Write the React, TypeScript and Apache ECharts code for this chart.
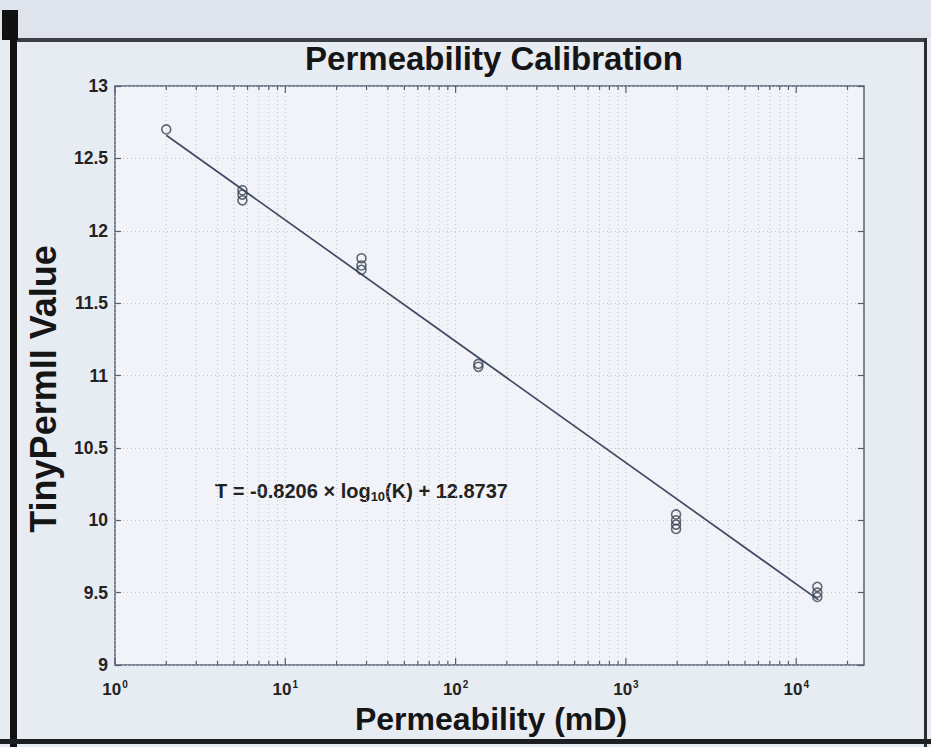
import React, { useEffect, useRef } from 'react';
import * as echarts from 'echarts';

// ---- data ----
const permeabilityK = [2, 5.6, 5.6, 5.6, 28, 28, 28, 136, 136, 1970, 1970, 1970, 1970, 13300, 13300, 13300];
const tinyPermT = [12.7, 12.28, 12.25, 12.21, 11.81, 11.76, 11.73, 11.08, 11.06, 10.04, 10.0, 9.97, 9.94, 9.54, 9.5, 9.47];
const fitK = [2, 13500];
const fitT = [12.66, 9.45];
const majorXTicks = [1, 10, 100, 1000, 10000];
const minorXTicks = [
  2, 3, 4, 5, 6, 7, 8, 9,
  20, 30, 40, 50, 60, 70, 80, 90,
  200, 300, 400, 500, 600, 700, 800, 900,
  2000, 3000, 4000, 5000, 6000, 7000, 8000, 9000,
  20000,
];
const yTickValues = [9, 9.5, 10, 10.5, 11, 11.5, 12, 12.5, 13];

const X_MIN = 1;
const X_MAX = 25000;
const Y_MIN = 9;
const Y_MAX = 13;

const FONT = '"Liberation Sans", Arial, Helvetica, sans-serif';

export default function App() {
  const ref = useRef<HTMLDivElement>(null);

  useEffect(() => {
    if (!ref.current) return;
    const chart = echarts.init(ref.current, undefined, { renderer: 'svg' });

    const tickData = [
      ...majorXTicks.map((v) => [v, Y_MIN, 1]),
      ...minorXTicks.map((v) => [v, Y_MIN, 0]),
    ];

    const option: any = {
      animation: false,
      backgroundColor: '#e7ebf2',
      grid: {
        left: 115,
        right: 67,
        top: 86,
        bottom: 82,
        show: true,
        backgroundColor: '#f1f3f8',
        borderColor: '#5a6272',
        borderWidth: 1.5,
      },
      xAxis: [
        {
          type: 'log',
          logBase: 10,
          min: X_MIN,
          max: X_MAX,
          axisLine: { show: false },
          axisTick: { show: false },
          splitLine: { show: false },
          axisLabel: {
            margin: 14,
            formatter: (v: number) => {
              const e = Math.log10(v);
              if (Math.abs(e - Math.round(e)) > 1e-6) return '';
              return `{b|10}{s|${Math.round(e)}}`;
            },
            rich: {
              b: { fontFamily: FONT, fontWeight: 'bold', fontSize: 17, color: '#222' },
              s: { fontFamily: FONT, fontWeight: 'bold', fontSize: 10, color: '#222', verticalAlign: 'top', padding: [0, 0, 10, 1] },
            },
          },
        },
      ],
      yAxis: [
        {
          type: 'value',
          min: Y_MIN,
          max: Y_MAX,
          interval: 0.5,
          axisLine: { show: false },
          axisTick: { show: true, inside: true, length: 6, lineStyle: { color: '#555e6e', width: 1.2 } },
          splitLine: { show: true, lineStyle: { color: '#c0c6d3', type: [1, 3], width: 1 } },
          axisLabel: {
            margin: 7,
            fontFamily: FONT,
            fontWeight: 'bold',
            fontSize: 17.5,
            color: '#222',
            formatter: (v: number) => (yTickValues.includes(v) ? String(v) : ''),
          },
        },
        {
          type: 'value',
          position: 'right',
          min: Y_MIN,
          max: Y_MAX,
          interval: 0.5,
          axisLine: { show: false },
          axisTick: { show: true, inside: true, length: 6, lineStyle: { color: '#555e6e', width: 1.2 } },
          splitLine: { show: false },
          axisLabel: { show: false },
        },
      ],
      series: [
        {
          type: 'custom',
          xAxisIndex: 0,
          yAxisIndex: 0,
          silent: true,
          z: 1,
          encode: { x: 0, y: 1 },
          data: tickData,
          renderItem: (params: any, api: any) => {
            const v = api.value(0);
            const major = api.value(2) === 1;
            const b = api.coord([v, Y_MIN]);
            const t = api.coord([v, Y_MAX]);
            const len = major ? 7 : 4;
            return {
              type: 'group',
              children: [
                {
                  type: 'line',
                  shape: { x1: b[0], y1: b[1], x2: t[0], y2: t[1] },
                  style: { stroke: '#c0c6d3', lineWidth: 1, lineDash: [1, 3] },
                },
                {
                  type: 'line',
                  shape: { x1: b[0], y1: b[1], x2: b[0], y2: b[1] - len },
                  style: { stroke: '#555e6e', lineWidth: 1.2 },
                },
                {
                  type: 'line',
                  shape: { x1: t[0], y1: t[1], x2: t[0], y2: t[1] + len },
                  style: { stroke: '#555e6e', lineWidth: 1.2 },
                },
              ],
            };
          },
        },
        {
          type: 'line',
          name: 'fit',
          data: fitK.map((k, i) => [k, fitT[i]]),
          showSymbol: false,
          symbol: 'none',
          z: 2,
          lineStyle: { color: '#3f4c62', width: 1.7 },
        },
        {
          type: 'scatter',
          name: 'measured',
          data: permeabilityK.map((k, i) => [k, tinyPermT[i]]),
          symbol: 'circle',
          symbolSize: 9,
          z: 3,
          itemStyle: { color: 'rgba(0,0,0,0)', borderColor: '#3d4452', borderWidth: 1.6 },
        },
      ],
      graphic: [
        // scan frame
        { type: 'rect', shape: { x: 0, y: 0, width: 931, height: 38 }, style: { fill: '#dfe4ec' }, z: -1 },
        { type: 'rect', shape: { x: 14, y: 38, width: 912, height: 4 }, style: { fill: '#3b3e44' } },
        { type: 'rect', shape: { x: 10, y: 20, width: 7, height: 727 }, style: { fill: '#111' } },
        { type: 'rect', shape: { x: 2, y: 10, width: 16, height: 30 }, style: { fill: '#111' } },
        { type: 'rect', shape: { x: 924, y: 38, width: 3, height: 709 }, style: { fill: '#2b2d31' } },
        { type: 'rect', shape: { x: 0, y: 739, width: 931, height: 5 }, style: { fill: '#1d1f23' } },
        {
          type: 'text',
          x: 494,
          y: 58,
          style: {
            text: 'Permeability Calibration',
            fontFamily: FONT,
            fontWeight: 'bold',
            fontSize: 33,
            fill: '#151515',
            align: 'center',
            verticalAlign: 'middle',
          },
        },
        {
          type: 'text',
          x: 43,
          y: 389,
          rotation: Math.PI / 2,
          style: {
            text: 'TinyPermII Value',
            fontFamily: FONT,
            fontWeight: 'bold',
            fontSize: 36,
            fill: '#151515',
            align: 'center',
            verticalAlign: 'middle',
          },
        },
        {
          type: 'text',
          x: 491,
          y: 719,
          style: {
            text: 'Permeability (mD)',
            fontFamily: FONT,
            fontWeight: 'bold',
            fontSize: 32,
            fill: '#151515',
            align: 'center',
            verticalAlign: 'middle',
          },
        },
        {
          type: 'text',
          x: 215,
          y: 491,
          style: {
            text: '{n|T = -0.8206 × log}{sub|10}{n|(K) + 12.8737}',
            verticalAlign: 'middle',
            rich: {
              n: { fontFamily: FONT, fontSize: 20, fill: '#222', fontWeight: 'bold' },
              sub: { fontFamily: FONT, fontSize: 13, fill: '#222', fontWeight: 'bold', verticalAlign: 'bottom', padding: [11, 0, 0, 0] },
            },
          },
        },
      ],
    };

    chart.setOption(option);
    return () => chart.dispose();
  }, []);

  return (
    <div
      ref={ref}
      style={{ position: 'fixed', left: 0, top: 0, width: 931, height: 747 }}
    />
  );
}
